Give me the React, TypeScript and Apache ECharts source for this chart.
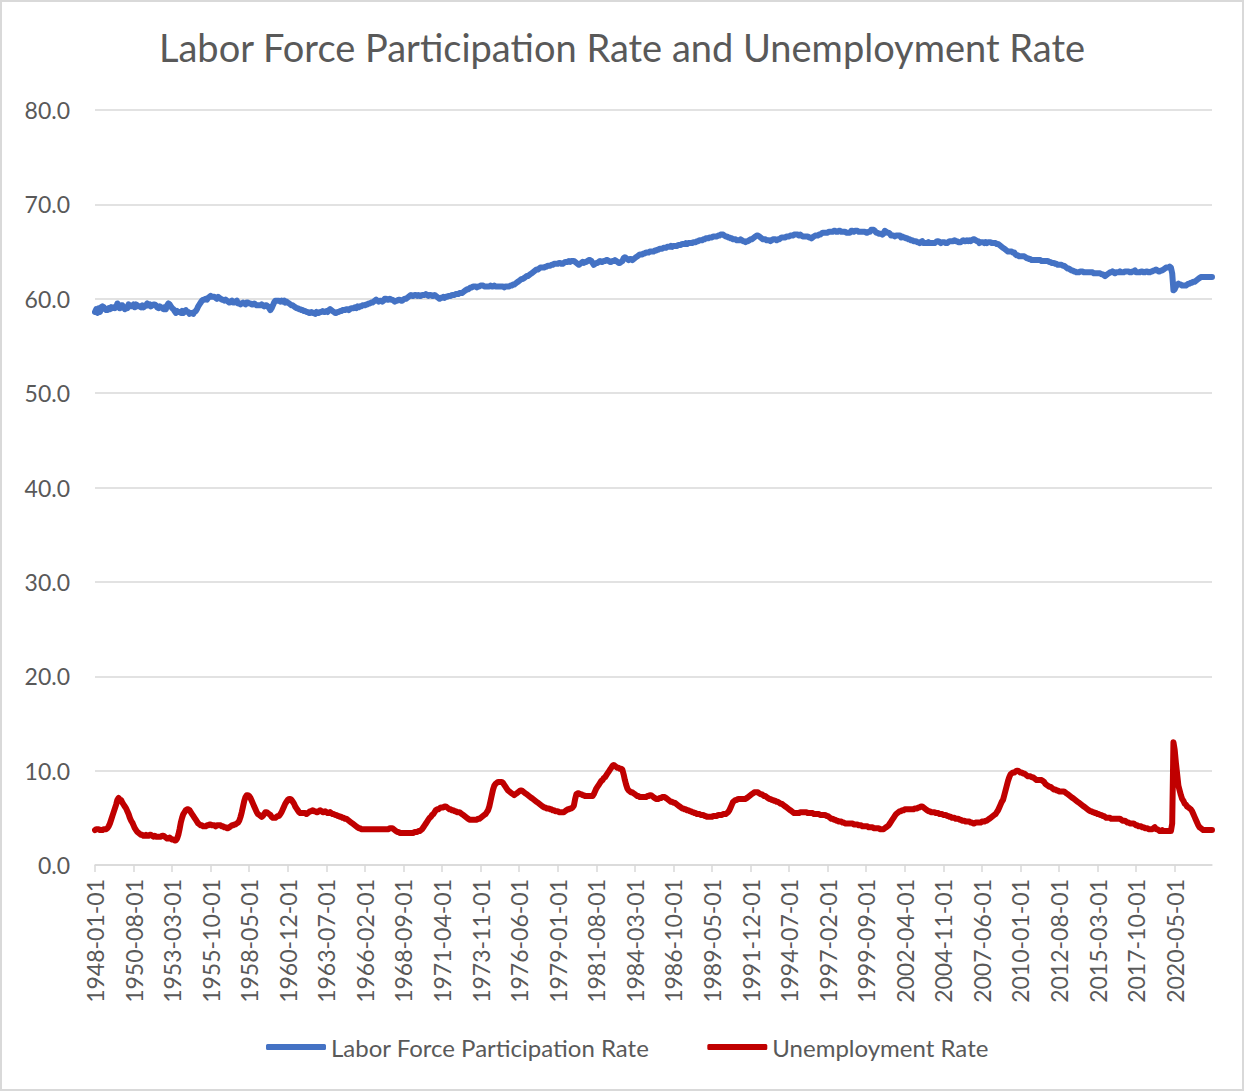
import React, { useEffect, useRef } from "react";
import * as echarts from "echarts";

const TITLE = "Labor Force Participation Rate and Unemployment Rate";
const SERIES_NAMES = ["Labor Force Participation Rate", "Unemployment Rate"];
const START_YEAR = 1948;
const MONTH_COUNT = 899; // 1948-01 .. 2022-11

// Labor force participation rate, monthly, one row per year
const participationRate = [
  58.6, 58.9, 58.5, 59.0, 58.6, 59.1, 59.2, 59.1, 58.9, 58.8, 58.8, 59.0, // 1948
  58.9, 59.1, 59.0, 59.1, 59.0, 59.1, 59.5, 59.3, 59.0, 59.3, 59.3, 59.1, // 1949
  58.9, 59.0, 59.0, 59.4, 59.2, 59.2, 59.2, 59.4, 59.1, 59.4, 59.3, 59.2, // 1950
  59.2, 59.1, 59.3, 59.1, 59.2, 59.3, 59.5, 59.3, 59.4, 59.2, 59.3, 59.4, // 1951
  59.4, 59.3, 59.1, 59.0, 59.2, 59.1, 59.0, 58.9, 59.1, 58.9, 59.3, 59.5, // 1952
  59.4, 59.2, 59.0, 58.9, 58.7, 58.5, 58.7, 58.6, 58.6, 58.5, 58.7, 58.5, // 1953
  58.7, 58.8, 58.6, 58.6, 58.4, 58.5, 58.5, 58.4, 58.6, 58.7, 58.9, 59.2, // 1954
  59.4, 59.6, 59.8, 59.9, 59.9, 60.0, 59.9, 60.1, 60.2, 60.3, 60.2, 60.2, // 1955
  60.2, 60.1, 60.0, 60.2, 60.1, 60.0, 59.9, 59.9, 59.8, 59.9, 59.8, 59.7, // 1956
  59.6, 59.7, 59.8, 59.6, 59.6, 59.7, 59.8, 59.5, 59.5, 59.4, 59.5, 59.6, // 1957
  59.5, 59.4, 59.6, 59.6, 59.5, 59.5, 59.4, 59.4, 59.5, 59.4, 59.3, 59.3, // 1958
  59.3, 59.3, 59.4, 59.3, 59.2, 59.3, 59.3, 59.2, 59.0, 58.8, 59.0, 59.3, // 1959
  59.6, 59.8, 59.8, 59.8, 59.8, 59.7, 59.8, 59.7, 59.8, 59.6, 59.7, 59.6, // 1960
  59.5, 59.4, 59.3, 59.3, 59.2, 59.1, 59.0, 59.0, 58.9, 58.9, 58.8, 58.8, // 1961
  58.7, 58.7, 58.6, 58.6, 58.5, 58.5, 58.6, 58.5, 58.5, 58.4, 58.6, 58.5, // 1962
  58.5, 58.6, 58.6, 58.7, 58.6, 58.6, 58.7, 58.6, 58.8, 58.9, 58.8, 58.7, // 1963
  58.6, 58.5, 58.5, 58.6, 58.6, 58.7, 58.7, 58.8, 58.8, 58.8, 58.9, 58.9, // 1964
  58.8, 58.9, 59.0, 59.0, 59.0, 59.1, 59.0, 59.2, 59.1, 59.2, 59.2, 59.3, // 1965
  59.3, 59.3, 59.4, 59.4, 59.5, 59.5, 59.6, 59.6, 59.7, 59.8, 59.9, 59.8, // 1966
  59.7, 59.8, 59.8, 59.7, 59.8, 60.0, 60.0, 59.9, 59.9, 60.0, 59.9, 59.9, // 1967
  59.8, 59.7, 59.8, 59.8, 59.9, 59.9, 59.8, 59.8, 59.9, 60.0, 60.0, 60.1, // 1968
  60.2, 60.3, 60.4, 60.3, 60.3, 60.4, 60.4, 60.3, 60.4, 60.3, 60.3, 60.4, // 1969
  60.4, 60.4, 60.5, 60.4, 60.3, 60.4, 60.4, 60.3, 60.3, 60.4, 60.3, 60.2, // 1970
  60.1, 60.0, 60.1, 60.1, 60.2, 60.1, 60.2, 60.2, 60.3, 60.3, 60.3, 60.4, // 1971
  60.4, 60.4, 60.5, 60.5, 60.5, 60.6, 60.6, 60.6, 60.7, 60.8, 60.9, 61.0, // 1972
  61.0, 61.1, 61.2, 61.2, 61.3, 61.3, 61.3, 61.2, 61.3, 61.3, 61.4, 61.4, // 1973
  61.4, 61.3, 61.3, 61.3, 61.3, 61.3, 61.4, 61.3, 61.3, 61.4, 61.3, 61.3, // 1974
  61.3, 61.3, 61.3, 61.3, 61.3, 61.2, 61.3, 61.3, 61.3, 61.3, 61.4, 61.4, // 1975
  61.5, 61.5, 61.6, 61.7, 61.8, 61.9, 62.0, 62.1, 62.1, 62.2, 62.3, 62.4, // 1976
  62.4, 62.5, 62.6, 62.7, 62.8, 62.9, 63.0, 63.1, 63.1, 63.2, 63.3, 63.3, // 1977
  63.3, 63.3, 63.4, 63.4, 63.5, 63.5, 63.5, 63.6, 63.6, 63.7, 63.7, 63.7, // 1978
  63.7, 63.8, 63.8, 63.7, 63.7, 63.8, 63.9, 63.9, 63.9, 64.0, 63.9, 64.0, // 1979
  64.0, 64.0, 63.9, 63.8, 63.7, 63.6, 63.7, 63.8, 63.9, 63.8, 63.9, 63.9, // 1980
  64.0, 64.1, 64.1, 64.0, 63.8, 63.6, 63.7, 63.8, 63.8, 63.9, 64.0, 63.9, // 1981
  63.9, 64.0, 64.0, 64.1, 64.1, 64.0, 63.9, 63.9, 64.0, 64.0, 64.1, 64.0, // 1982
  63.9, 63.8, 63.8, 63.9, 64.0, 64.3, 64.4, 64.3, 64.2, 64.1, 64.2, 64.2, // 1983
  64.1, 64.2, 64.3, 64.4, 64.5, 64.6, 64.7, 64.7, 64.7, 64.8, 64.8, 64.9, // 1984
  64.9, 64.9, 65.0, 65.0, 65.0, 65.0, 65.1, 65.1, 65.2, 65.2, 65.3, 65.3, // 1985
  65.3, 65.4, 65.4, 65.4, 65.5, 65.5, 65.5, 65.6, 65.5, 65.6, 65.6, 65.6, // 1986
  65.6, 65.7, 65.7, 65.7, 65.8, 65.8, 65.8, 65.9, 65.8, 65.9, 65.9, 65.9, // 1987
  65.9, 66.0, 66.0, 66.0, 66.1, 66.1, 66.2, 66.2, 66.2, 66.3, 66.3, 66.4, // 1988
  66.4, 66.4, 66.5, 66.5, 66.5, 66.6, 66.6, 66.6, 66.6, 66.7, 66.7, 66.8, // 1989
  66.8, 66.8, 66.7, 66.6, 66.6, 66.5, 66.5, 66.4, 66.4, 66.3, 66.3, 66.3, // 1990
  66.2, 66.2, 66.2, 66.3, 66.2, 66.1, 66.1, 66.0, 66.1, 66.1, 66.2, 66.3, // 1991
  66.3, 66.4, 66.5, 66.6, 66.7, 66.7, 66.6, 66.5, 66.4, 66.3, 66.3, 66.3, // 1992
  66.2, 66.2, 66.2, 66.1, 66.2, 66.3, 66.3, 66.3, 66.2, 66.3, 66.3, 66.4, // 1993
  66.5, 66.5, 66.5, 66.5, 66.6, 66.6, 66.6, 66.7, 66.7, 66.7, 66.8, 66.8, // 1994
  66.8, 66.8, 66.7, 66.8, 66.7, 66.6, 66.6, 66.6, 66.6, 66.6, 66.5, 66.5, // 1995
  66.4, 66.5, 66.6, 66.7, 66.7, 66.7, 66.8, 66.8, 66.9, 67.0, 67.0, 67.0, // 1996
  67.0, 67.0, 67.1, 67.1, 67.1, 67.1, 67.2, 67.2, 67.1, 67.1, 67.2, 67.2, // 1997
  67.1, 67.1, 67.1, 67.1, 67.0, 67.0, 67.0, 67.0, 67.2, 67.2, 67.1, 67.2, // 1998
  67.2, 67.2, 67.1, 67.1, 67.1, 67.1, 67.1, 67.1, 67.0, 67.0, 67.1, 67.1, // 1999
  67.3, 67.3, 67.3, 67.2, 67.0, 67.0, 66.9, 66.9, 66.9, 66.8, 66.9, 67.2, // 2000
  67.1, 67.0, 67.0, 66.9, 66.7, 66.7, 66.7, 66.6, 66.7, 66.7, 66.7, 66.7, // 2001
  66.5, 66.6, 66.5, 66.5, 66.4, 66.4, 66.3, 66.3, 66.2, 66.2, 66.1, 66.1, // 2002
  66.1, 66.0, 66.0, 65.9, 66.0, 66.1, 65.9, 65.9, 65.9, 65.9, 66.0, 65.9, // 2003
  65.9, 65.9, 65.9, 65.9, 66.0, 66.1, 66.1, 66.0, 65.9, 66.0, 66.0, 66.0, // 2004
  65.9, 65.9, 66.0, 66.1, 66.1, 66.1, 66.1, 66.2, 66.1, 66.1, 66.0, 66.0, // 2005
  66.0, 66.1, 66.2, 66.1, 66.1, 66.2, 66.1, 66.2, 66.1, 66.2, 66.3, 66.3, // 2006
  66.2, 66.1, 66.1, 65.9, 66.0, 66.0, 66.0, 65.9, 66.0, 65.9, 66.0, 66.0, // 2007
  66.0, 65.9, 65.9, 65.9, 65.9, 65.8, 65.8, 65.7, 65.6, 65.5, 65.4, 65.3, // 2008
  65.2, 65.1, 65.0, 65.0, 65.0, 65.0, 64.9, 64.9, 64.7, 64.6, 64.6, 64.5, // 2009
  64.5, 64.5, 64.5, 64.5, 64.4, 64.3, 64.3, 64.2, 64.2, 64.1, 64.1, 64.1, // 2010
  64.1, 64.1, 64.1, 64.1, 64.1, 64.0, 64.0, 64.0, 64.0, 64.0, 64.0, 63.9, // 2011
  63.9, 63.8, 63.8, 63.8, 63.7, 63.7, 63.6, 63.6, 63.6, 63.6, 63.5, 63.5, // 2012
  63.4, 63.3, 63.2, 63.2, 63.1, 63.0, 63.0, 62.9, 62.9, 62.8, 62.8, 62.8, // 2013
  62.9, 62.9, 62.9, 62.8, 62.8, 62.8, 62.8, 62.8, 62.8, 62.8, 62.8, 62.7, // 2014
  62.7, 62.7, 62.7, 62.7, 62.7, 62.6, 62.6, 62.5, 62.4, 62.5, 62.6, 62.7, // 2015
  62.8, 62.8, 62.9, 62.8, 62.7, 62.8, 62.8, 62.8, 62.9, 62.8, 62.8, 62.8, // 2016
  62.9, 62.9, 62.9, 62.9, 62.8, 62.8, 62.9, 62.9, 63.0, 62.8, 62.8, 62.8, // 2017
  62.8, 62.9, 62.9, 62.8, 62.8, 62.9, 62.9, 62.8, 62.8, 62.9, 62.9, 63.0, // 2018
  63.0, 63.1, 63.0, 62.9, 62.9, 63.0, 63.0, 63.1, 63.2, 63.3, 63.3, 63.3, // 2019
  63.4, 63.3, 62.7, 60.9, 61.0, 61.3, 61.5, 61.6, 61.5, 61.5, 61.4, 61.4, // 2020
  61.4, 61.4, 61.5, 61.6, 61.6, 61.7, 61.7, 61.8, 61.8, 61.9, 62.0, 62.1, // 2021
  62.2, 62.3, 62.3, 62.3, 62.3, 62.3, 62.3, 62.3, 62.3, 62.3, 62.3,       // 2022
];

// Unemployment rate, monthly, one row per year
const unemploymentRate = [
  3.7, 3.8, 3.8, 3.8, 3.7, 3.7, 3.7, 3.8, 3.8, 3.8, 3.9, 4.1, // 1948
  4.4, 4.8, 5.2, 5.6, 6.0, 6.4, 6.9, 7.1, 6.9, 6.9, 6.6, 6.4, // 1949
  6.2, 6.0, 5.7, 5.4, 5.0, 4.7, 4.5, 4.2, 3.9, 3.7, 3.5, 3.4, // 1950
  3.3, 3.2, 3.2, 3.1, 3.1, 3.2, 3.1, 3.1, 3.2, 3.2, 3.1, 3.0, // 1951
  3.1, 3.0, 3.0, 3.0, 3.0, 3.0, 3.1, 3.1, 3.0, 2.9, 2.8, 2.8, // 1952
  2.9, 2.8, 2.7, 2.7, 2.6, 2.6, 2.8, 3.2, 3.8, 4.5, 5.0, 5.4, // 1953
  5.6, 5.8, 5.9, 5.9, 5.8, 5.6, 5.4, 5.2, 5.0, 4.8, 4.6, 4.4, // 1954
  4.3, 4.2, 4.2, 4.1, 4.1, 4.1, 4.2, 4.2, 4.3, 4.3, 4.2, 4.2, // 1955
  4.2, 4.1, 4.2, 4.2, 4.2, 4.2, 4.1, 4.1, 4.0, 4.0, 3.9, 3.9, // 1956
  4.0, 4.1, 4.2, 4.2, 4.3, 4.3, 4.4, 4.5, 4.7, 5.1, 5.6, 6.2, // 1957
  6.8, 7.2, 7.4, 7.4, 7.3, 7.1, 6.8, 6.5, 6.2, 5.9, 5.6, 5.4, // 1958
  5.3, 5.2, 5.1, 5.2, 5.4, 5.6, 5.6, 5.5, 5.4, 5.3, 5.1, 5.0, // 1959
  5.0, 5.0, 5.1, 5.2, 5.2, 5.4, 5.6, 5.9, 6.2, 6.5, 6.7, 6.9, // 1960
  7.0, 7.0, 6.9, 6.7, 6.5, 6.2, 6.0, 5.8, 5.6, 5.5, 5.5, 5.5, // 1961
  5.5, 5.5, 5.4, 5.5, 5.6, 5.7, 5.7, 5.8, 5.7, 5.7, 5.6, 5.6, // 1962
  5.7, 5.8, 5.7, 5.6, 5.6, 5.7, 5.6, 5.5, 5.5, 5.6, 5.5, 5.4, // 1963
  5.4, 5.3, 5.3, 5.2, 5.2, 5.1, 5.1, 5.0, 5.0, 4.9, 4.9, 4.8, // 1964
  4.7, 4.6, 4.5, 4.4, 4.3, 4.2, 4.1, 4.0, 3.9, 3.9, 3.8, 3.8, // 1965
  3.8, 3.8, 3.8, 3.8, 3.8, 3.8, 3.8, 3.8, 3.8, 3.8, 3.8, 3.8, // 1966
  3.8, 3.8, 3.8, 3.8, 3.8, 3.8, 3.8, 3.8, 3.8, 3.9, 3.9, 3.9, // 1967
  3.8, 3.7, 3.6, 3.5, 3.5, 3.4, 3.4, 3.4, 3.4, 3.4, 3.4, 3.4, // 1968
  3.4, 3.4, 3.4, 3.4, 3.4, 3.5, 3.5, 3.5, 3.6, 3.6, 3.7, 3.8, // 1969
  4.0, 4.2, 4.4, 4.6, 4.8, 5.0, 5.1, 5.3, 5.4, 5.6, 5.8, 5.9, // 1970
  5.9, 6.0, 6.1, 6.1, 6.1, 6.2, 6.2, 6.1, 6.0, 5.9, 5.9, 5.8, // 1971
  5.8, 5.7, 5.7, 5.6, 5.6, 5.6, 5.5, 5.4, 5.3, 5.2, 5.1, 5.0, // 1972
  4.9, 4.8, 4.8, 4.8, 4.8, 4.8, 4.8, 4.8, 4.9, 4.9, 5.0, 5.1, // 1973
  5.2, 5.3, 5.4, 5.6, 5.8, 6.2, 6.8, 7.4, 8.0, 8.4, 8.6, 8.7, // 1974
  8.8, 8.8, 8.8, 8.8, 8.7, 8.5, 8.3, 8.1, 7.9, 7.8, 7.7, 7.6, // 1975
  7.5, 7.4, 7.5, 7.6, 7.7, 7.8, 7.9, 7.9, 7.8, 7.7, 7.6, 7.5, // 1976
  7.4, 7.3, 7.2, 7.1, 7.0, 6.9, 6.8, 6.7, 6.6, 6.5, 6.4, 6.3, // 1977
  6.2, 6.1, 6.1, 6.0, 6.0, 6.0, 5.9, 5.9, 5.8, 5.8, 5.7, 5.7, // 1978
  5.7, 5.6, 5.6, 5.6, 5.6, 5.6, 5.7, 5.8, 5.9, 5.9, 6.0, 6.0, // 1979
  6.1, 6.3, 7.0, 7.5, 7.6, 7.6, 7.5, 7.5, 7.4, 7.4, 7.3, 7.3, // 1980
  7.3, 7.3, 7.3, 7.3, 7.3, 7.5, 7.8, 8.1, 8.3, 8.5, 8.7, 8.9, // 1981
  9.0, 9.2, 9.3, 9.5, 9.7, 9.9, 10.1, 10.3, 10.5, 10.6, 10.5, 10.4, // 1982
  10.3, 10.3, 10.2, 10.2, 10.1, 9.6, 9.0, 8.5, 8.1, 7.9, 7.8, 7.7, // 1983
  7.7, 7.6, 7.5, 7.4, 7.3, 7.3, 7.2, 7.2, 7.2, 7.2, 7.2, 7.2, // 1984
  7.3, 7.3, 7.4, 7.4, 7.3, 7.2, 7.1, 7.0, 7.0, 7.0, 7.1, 7.1, // 1985
  7.2, 7.2, 7.2, 7.1, 7.0, 6.9, 6.8, 6.7, 6.7, 6.6, 6.6, 6.5, // 1986
  6.4, 6.3, 6.2, 6.1, 6.0, 6.0, 5.9, 5.9, 5.8, 5.8, 5.7, 5.7, // 1987
  5.6, 5.6, 5.5, 5.5, 5.4, 5.4, 5.4, 5.3, 5.3, 5.3, 5.2, 5.2, // 1988
  5.1, 5.1, 5.1, 5.1, 5.1, 5.2, 5.2, 5.2, 5.2, 5.3, 5.3, 5.3, // 1989
  5.3, 5.4, 5.4, 5.4, 5.5, 5.6, 5.8, 6.1, 6.4, 6.7, 6.8, 6.9, // 1990
  6.9, 7.0, 7.0, 7.0, 7.0, 7.0, 7.0, 7.0, 7.1, 7.2, 7.3, 7.4, // 1991
  7.5, 7.6, 7.7, 7.7, 7.7, 7.7, 7.6, 7.5, 7.5, 7.4, 7.3, 7.3, // 1992
  7.2, 7.1, 7.0, 7.0, 6.9, 6.9, 6.8, 6.8, 6.7, 6.7, 6.6, 6.5, // 1993
  6.5, 6.4, 6.3, 6.2, 6.1, 6.0, 5.9, 5.8, 5.7, 5.6, 5.5, 5.5, // 1994
  5.5, 5.5, 5.5, 5.6, 5.6, 5.6, 5.6, 5.6, 5.6, 5.5, 5.5, 5.5, // 1995
  5.5, 5.5, 5.4, 5.4, 5.4, 5.4, 5.4, 5.3, 5.3, 5.3, 5.3, 5.3, // 1996
  5.2, 5.2, 5.1, 5.0, 4.9, 4.9, 4.8, 4.8, 4.7, 4.7, 4.6, 4.6, // 1997
  4.6, 4.5, 4.5, 4.4, 4.4, 4.4, 4.4, 4.4, 4.4, 4.4, 4.3, 4.3, // 1998
  4.3, 4.3, 4.2, 4.2, 4.2, 4.1, 4.1, 4.1, 4.1, 4.1, 4.0, 4.0, // 1999
  4.0, 4.0, 3.9, 3.9, 3.9, 3.9, 3.9, 3.8, 3.8, 3.8, 3.8, 3.9, // 2000
  4.0, 4.1, 4.2, 4.4, 4.6, 4.8, 5.0, 5.2, 5.4, 5.5, 5.6, 5.7, // 2001
  5.7, 5.8, 5.8, 5.9, 5.9, 5.9, 5.9, 5.9, 5.9, 5.9, 5.9, 6.0, // 2002
  6.0, 6.0, 6.1, 6.1, 6.2, 6.2, 6.1, 6.0, 5.9, 5.8, 5.7, 5.7, // 2003
  5.6, 5.6, 5.6, 5.6, 5.5, 5.5, 5.5, 5.4, 5.4, 5.4, 5.3, 5.3, // 2004
  5.3, 5.2, 5.2, 5.1, 5.1, 5.0, 5.0, 5.0, 4.9, 4.9, 4.9, 4.8, // 2005
  4.8, 4.7, 4.7, 4.7, 4.6, 4.6, 4.6, 4.6, 4.5, 4.5, 4.4, 4.4, // 2006
  4.5, 4.5, 4.5, 4.5, 4.5, 4.6, 4.6, 4.6, 4.7, 4.7, 4.8, 4.9, // 2007
  5.0, 5.1, 5.2, 5.3, 5.4, 5.6, 5.8, 6.1, 6.4, 6.7, 6.9, 7.4, // 2008
  7.9, 8.4, 8.9, 9.3, 9.6, 9.7, 9.8, 9.8, 9.9, 10.0, 10.0, 9.9, // 2009
  9.8, 9.8, 9.7, 9.7, 9.6, 9.5, 9.4, 9.4, 9.4, 9.3, 9.3, 9.2, // 2010
  9.1, 9.0, 9.0, 9.0, 9.0, 9.0, 8.9, 8.8, 8.6, 8.5, 8.4, 8.3, // 2011
  8.3, 8.2, 8.1, 8.0, 8.0, 7.9, 7.9, 7.8, 7.8, 7.8, 7.8, 7.8, // 2012
  7.7, 7.6, 7.5, 7.4, 7.3, 7.2, 7.1, 7.0, 6.9, 6.8, 6.7, 6.6, // 2013
  6.5, 6.4, 6.3, 6.2, 6.1, 6.0, 5.9, 5.8, 5.7, 5.7, 5.6, 5.6, // 2014
  5.5, 5.5, 5.4, 5.4, 5.3, 5.3, 5.2, 5.2, 5.1, 5.0, 5.0, 5.0, // 2015
  5.0, 4.9, 4.9, 4.9, 4.9, 4.9, 4.9, 4.9, 4.9, 4.8, 4.7, 4.7, // 2016
  4.7, 4.6, 4.5, 4.5, 4.4, 4.4, 4.4, 4.4, 4.3, 4.2, 4.2, 4.1, // 2017
  4.1, 4.1, 4.0, 4.0, 3.9, 3.9, 3.9, 3.8, 3.8, 3.8, 3.8, 3.9, // 2018
  4.0, 3.8, 3.8, 3.7, 3.6, 3.6, 3.7, 3.6, 3.6, 3.6, 3.6, 3.6, // 2019
  3.6, 3.6, 4.4, 13.0, 12.2, 10.8, 9.6, 8.4, 7.9, 7.4, 7.0, 6.8, // 2020
  6.5, 6.4, 6.2, 6.1, 6.0, 5.9, 5.7, 5.4, 5.1, 4.8, 4.5, 4.2, // 2021
  4.0, 3.9, 3.8, 3.7, 3.7, 3.7, 3.7, 3.7, 3.7, 3.7, 3.7,      // 2022
];

const monthLabels: string[] = [];
for (let i = 0; i < MONTH_COUNT; i++) {
  const y = START_YEAR + Math.floor(i / 12);
  const m = (i % 12) + 1;
  monthLabels.push(`${y}-${m < 10 ? "0" + m : m}-01`);
}

const FONT = "Lato, 'Open Sans', sans-serif";
const TEXT_COLOR = "#595959";
const GRID_COLOR = "#d9d9d9";

export default function App() {
  const ref = useRef<HTMLDivElement>(null);

  useEffect(() => {
    document.body.style.margin = "0";
    if (!ref.current) return;
    const chart = echarts.init(ref.current, undefined, { renderer: "svg" });
    chart.setOption({
      animation: false,
      backgroundColor: "#ffffff",
      textStyle: { fontFamily: FONT },
      title: {
        text: TITLE,
        left: "center",
        top: 21,
        textStyle: { fontFamily: FONT, fontSize: 38, fontWeight: "normal", color: TEXT_COLOR },
      },
      legend: {
        data: SERIES_NAMES,
        left: 259,
        top: 1028,
        itemWidth: 60,
        itemHeight: 6,
        itemGap: 58,
        icon: "roundRect",
        textStyle: { fontFamily: FONT, fontSize: 24, color: TEXT_COLOR },
      },
      grid: { left: 93, right: 30, top: 108, bottom: 224, containLabel: false },
      xAxis: {
        type: "category",
        data: monthLabels,
        boundaryGap: false,
        axisLine: { lineStyle: { color: GRID_COLOR, width: 1.5 } },
        axisTick: { show: true, interval: 30, length: 7, lineStyle: { color: GRID_COLOR, width: 1.5 } },
        axisLabel: {
          interval: 30,
          rotate: 90,
          margin: 14,
          fontFamily: FONT,
          fontSize: 23,
          color: TEXT_COLOR,
        },
        splitLine: { show: false },
      },
      yAxis: {
        type: "value",
        min: 0,
        max: 80,
        interval: 10,
        axisLine: { show: false },
        axisTick: { show: false },
        axisLabel: {
          margin: 25,
          fontFamily: FONT,
          fontSize: 23,
          color: TEXT_COLOR,
          formatter: (v: number) => v.toFixed(1),
        },
        splitLine: { lineStyle: { color: GRID_COLOR, width: 1.5 } },
      },
      series: [
        {
          name: SERIES_NAMES[0],
          type: "line",
          data: participationRate,
          showSymbol: false,
          symbol: "none",
          itemStyle: { color: "#4472C4" },
          lineStyle: { color: "#4472C4", width: 6, cap: "round", join: "round" },
        },
        {
          name: SERIES_NAMES[1],
          type: "line",
          data: unemploymentRate,
          showSymbol: false,
          symbol: "none",
          itemStyle: { color: "#C00000" },
          lineStyle: { color: "#C00000", width: 6, cap: "round", join: "round" },
        },
      ],
    });
    return () => chart.dispose();
  }, []);

  return (
    <div
      style={{
        position: "absolute",
        left: 0,
        top: 0,
        width: 1244,
        height: 1091,
        boxSizing: "border-box",
        border: "2px solid #d9d9d9",
        background: "#fff",
      }}
    >
      <div ref={ref} style={{ width: 1240, height: 1087 }} />
    </div>
  );
}
